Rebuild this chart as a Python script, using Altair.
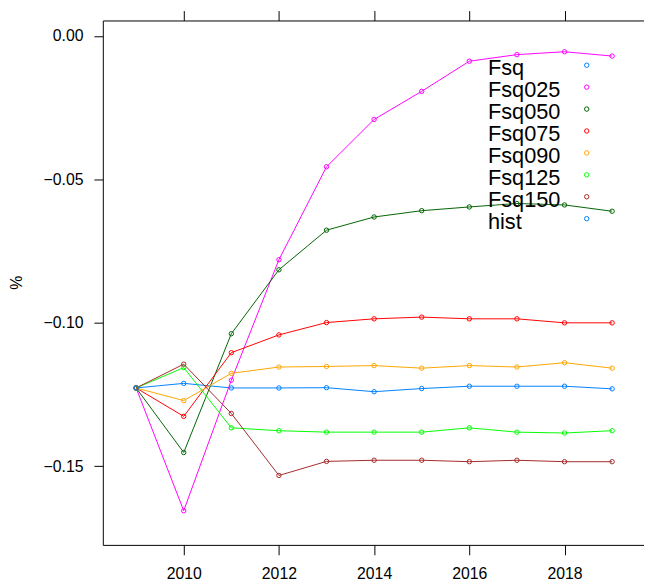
import altair as alt
import pandas as pd

years = list(range(2009, 2020))
Fsq    = [-0.1227, -0.1211, -0.1227, -0.1227, -0.1226, -0.1240, -0.1229, -0.1221, -0.1221, -0.1221, -0.1230]
Fsq025 = [-0.1227, -0.1655, -0.1200, -0.0780, -0.0456, -0.0291, -0.0193, -0.0088, -0.0065, -0.0055, -0.0070]
Fsq050 = [-0.1227, -0.1452, -0.1038, -0.0815, -0.0677, -0.0631, -0.0609, -0.0596, -0.0584, -0.0589, -0.0611]
Fsq075 = [-0.1227, -0.1326, -0.1104, -0.1042, -0.0999, -0.0986, -0.0980, -0.0986, -0.0986, -0.1000, -0.1000]
Fsq090 = [-0.1227, -0.1271, -0.1176, -0.1154, -0.1152, -0.1149, -0.1158, -0.1149, -0.1154, -0.1139, -0.1158]
Fsq125 = [-0.1227, -0.1156, -0.1366, -0.1376, -0.1381, -0.1381, -0.1381, -0.1366, -0.1381, -0.1384, -0.1376]
Fsq150 = [-0.1227, -0.1144, -0.1316, -0.1532, -0.1483, -0.1479, -0.1479, -0.1484, -0.1479, -0.1484, -0.1484]
hist_years = [2009]
hist = [-0.1227]

series = ["Fsq", "Fsq025", "Fsq050", "Fsq075", "Fsq090", "Fsq125", "Fsq150", "hist"]
colors = ["#0080ff", "#ff00ff", "#006400", "#ff0000", "#ffa500", "#00ff00", "#a52a2a", "#0080ff"]
x_ticks = [2010, 2012, 2014, 2016, 2018]
y_ticks = [0.0, -0.05, -0.10, -0.15]

values = {"Fsq": Fsq, "Fsq025": Fsq025, "Fsq050": Fsq050, "Fsq075": Fsq075,
          "Fsq090": Fsq090, "Fsq125": Fsq125, "Fsq150": Fsq150}
rows = []
for k, s in enumerate(series):
    if s == "hist":
        for yr, v in zip(hist_years, hist):
            rows.append({"year": yr, "value": v, "series": s, "ord": k})
    else:
        for yr, v in zip(years, values[s]):
            rows.append({"year": yr, "value": v, "series": s, "ord": k})
df = pd.DataFrame(rows)
leg = pd.DataFrame({"series": series, "i": list(range(len(series)))})

FONT = "Liberation Sans"
xscale = alt.Scale(domain=[2008.3, 2019.67], nice=False, zero=False)
yscale = alt.Scale(domain=[-0.1774, 0.0054], nice=False, zero=False)
cscale = alt.Scale(domain=series, range=colors)

xaxis = alt.Axis(values=x_ticks, format="d", title=None, grid=False, tickSize=10,
                 labelPadding=11, labelFontSize=16, labelFont=FONT, labelColor="black",
                 domainColor="black", tickColor="black", labelFlush=False)
yaxis = alt.Axis(values=y_ticks, format=".2f", title="%", grid=False, tickSize=9,
                 labelPadding=11, labelFontSize=16, labelFont=FONT, labelColor="black",
                 domainColor="black", tickColor="black", titleFont=FONT, titleFontSize=16,
                 titleFontWeight="normal", titleColor="black", titleX=-87, titleY=265,
                 titleAngle=270, titleAlign="center", titleBaseline="middle")

base = alt.Chart(df)
lines = base.mark_line(strokeWidth=1, clip=True).encode(
    x=alt.X("year:Q", scale=xscale, axis=xaxis),
    y=alt.Y("value:Q", scale=yscale, axis=yaxis),
    color=alt.Color("series:N", scale=cscale, legend=None),
    order=alt.Order("year:Q"),
    detail="series:N",
)
pts = base.mark_point(shape="circle", filled=False, size=20, strokeWidth=1, opacity=1).encode(
    x=alt.X("year:Q", scale=xscale,
            axis=alt.Axis(values=x_ticks, orient="top", labels=False, title=None, grid=False,
                          tickSize=10, domainColor="black", tickColor="black")),
    y=alt.Y("value:Q", scale=yscale, axis=None),
    color=alt.Color("series:N", scale=cscale, legend=None),
)

legy = alt.Y("i:Q", scale=alt.Scale(domain=[0, 7], range=[45.3, 200.7]), axis=None)
leg_text = alt.Chart(leg).mark_text(align="left", baseline="alphabetic", dy=10, fontSize=22,
                                    font=FONT, color="black").encode(
    x=alt.value(390), y=legy, text="series:N")
leg_pts = alt.Chart(leg).mark_point(shape="circle", filled=False, size=20, strokeWidth=1,
                                    opacity=1).encode(
    x=alt.value(490), y=legy,
    color=alt.Color("series:N", scale=cscale, legend=None))

chart = alt.layer(lines, pts, leg_text, leg_pts).resolve_scale(
    y="independent").resolve_axis(x="independent").properties(
    width=548, height=531,
    padding={"left": 96, "top": 9, "right": 0, "bottom": 38},
    autosize="none",
    background="white",
).configure_view(stroke=None)

chart.save("out.html", embed_options={"renderer": "svg", "actions": False})
